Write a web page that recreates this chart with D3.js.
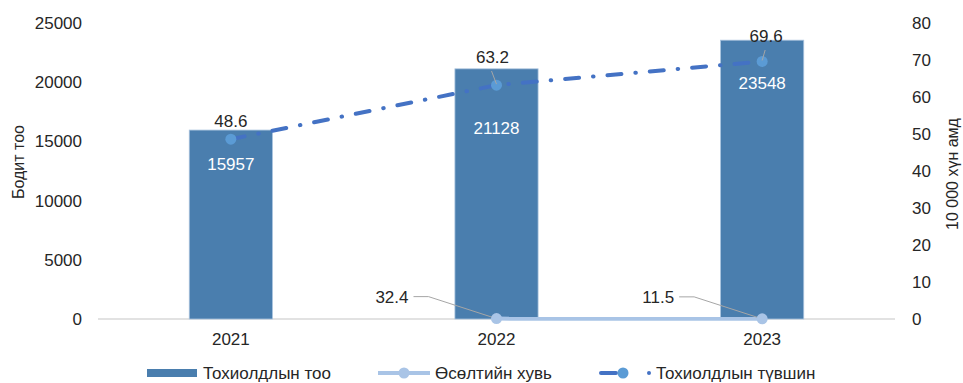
<!DOCTYPE html>
<html><head><meta charset="utf-8">
<script src="https://cdn.jsdelivr.net/npm/d3@7"></script>
<style>body{margin:0;background:#fff}svg{display:block;font-family:"Liberation Sans",Arial,sans-serif}</style>
</head><body><svg id="c" width="963" height="383"></svg>
<script>
const years = ["2021","2022","2023"];
const cases = [15957, 21128, 23548];
const growth = [null, 32.4, 11.5];
const rate = [48.6, 63.2, 69.6];
const leftTicks = [0,5000,10000,15000,20000,25000];
const rightTicks = [0,10,20,30,40,50,60,70,80];
const seriesNames = ["Тохиолдлын тоо","Өсөлтийн хувь","Тохиолдлын түвшин"];
const leftTitle = "Бодит тоо";
const rightTitle = "10 000 хүн амд";

const svg = d3.select("#c");
const L = 98, R = 895, T = 23, B = 319;
const x = d3.scaleBand().domain(years).range([L, R]);
const yL = d3.scaleLinear().domain([0,25000]).range([B, T]);
const yR = d3.scaleLinear().domain([0,80]).range([B, T]);
const barW = x.bandwidth()*0.313;
const cx = d => x(d) + x.bandwidth()/2;
const fs = 17;

svg.append("line").attr("x1",L).attr("x2",R).attr("y1",B).attr("y2",B).attr("stroke","#d9d9d9").attr("stroke-width",1.5);

const gL = svg.append("g").attr("transform",`translate(${L},0)`)
  .call(d3.axisLeft(yL).tickValues(leftTicks).tickSize(0).tickPadding(16).tickFormat(d3.format("d")));
gL.select(".domain").remove();
gL.selectAll("text").attr("font-size",fs).attr("fill","#262626").attr("font-family","Liberation Sans, Arial");

const gR = svg.append("g").attr("transform",`translate(${R},0)`)
  .call(d3.axisRight(yR).tickValues(rightTicks).tickSize(0).tickPadding(17));
gR.select(".domain").remove();
gR.selectAll("text").attr("font-size",fs).attr("fill","#262626").attr("font-family","Liberation Sans, Arial");

const gX = svg.append("g").attr("transform",`translate(0,${B})`)
  .call(d3.axisBottom(x).tickSize(0).tickPadding(14));
gX.select(".domain").remove();
gX.selectAll("text").attr("font-size",fs).attr("fill","#262626").attr("font-family","Liberation Sans, Arial");

svg.append("text").attr("transform",`translate(24,162) rotate(-90)`).attr("text-anchor","middle")
  .attr("font-size",16).attr("fill","#262626").text(leftTitle);
svg.append("text").attr("transform",`translate(958,174) rotate(-90)`).attr("text-anchor","middle")
  .attr("font-size",16).attr("fill","#262626").text(rightTitle);

svg.selectAll("rect.bar").data(years).join("rect").attr("class","bar")
  .attr("x",d=>cx(d)-barW/2).attr("width",barW)
  .attr("y",(d,i)=>yL(cases[i])).attr("height",(d,i)=>B-yL(cases[i]))
  .attr("fill","#4a7eae").attr("stroke","#a9c3de").attr("stroke-width",0.8);

const lineR = d3.line().x((d,i)=>cx(years[i])).y(d=>yR(d));
svg.append("path").datum(rate).attr("d",lineR).attr("fill","none")
  .attr("stroke","#4472c4").attr("stroke-width",4).attr("stroke-linecap","round")
  .attr("stroke-dasharray","14,14,0.5,14");

const gIdx = years.map((d,i)=>i).filter(i=>growth[i]!==null);
const lineG = d3.line().x(i=>cx(years[i])).y(i=>yL(growth[i]));
svg.append("path").datum(gIdx).attr("d",lineG).attr("fill","none")
  .attr("stroke","#a9c4e6").attr("stroke-width",4);

const gLabelDx = -88, gLabelDy = -22;
gIdx.forEach(i=>{
  const px = cx(years[i]), py = yL(growth[i]);
  svg.append("polyline").attr("points",`${px+gLabelDx+5},${py+gLabelDy} ${px+gLabelDx+20},${py+gLabelDy} ${px},${py}`)
    .attr("fill","none").attr("stroke","#a6a6a6").attr("stroke-width",1);
  svg.append("text").attr("x",px+gLabelDx).attr("y",py+gLabelDy+6).attr("text-anchor","end")
    .attr("font-size",fs).attr("fill","#262626").text(growth[i]);
});
svg.selectAll("circle.g").data(gIdx).join("circle").attr("class","g")
  .attr("cx",i=>cx(years[i])).attr("cy",i=>yL(growth[i])).attr("r",5.5).attr("fill","#a9c4e6");

svg.selectAll("circle.r").data(rate).join("circle").attr("class","r")
  .attr("cx",(d,i)=>cx(years[i])).attr("cy",d=>yR(d)).attr("r",5.5).attr("fill","#5b9bd5");

const rateLabelPos = [[0,121],[-4,57],[4,36]];
rate.forEach((v,i)=>{
  const px = cx(years[i]), py = yR(v);
  const lx = px + rateLabelPos[i][0], ly = rateLabelPos[i][1];
  if (i>0) svg.append("line").attr("x1",lx-1).attr("y1",ly+14).attr("x2",px).attr("y2",py-1)
    .attr("stroke","#a6a6a6").attr("stroke-width",1);
  svg.append("text").attr("x",lx).attr("y",ly).attr("text-anchor","middle").attr("dy","0.35em")
    .attr("font-size",fs).attr("fill","#262626").text(v);
});

const barLabelY = [164,128,83];
cases.forEach((v,i)=>{
  svg.append("text").attr("x",cx(years[i])).attr("y",barLabelY[i]).attr("dy","0.35em").attr("text-anchor","middle")
    .attr("font-size",fs).attr("fill","#ffffff").text(v);
});

const lg = svg.append("g");
const ly = 373;
lg.append("rect").attr("x",147).attr("y",ly-4).attr("width",50).attr("height",8).attr("fill","#4a7eae");
lg.append("text").attr("x",203).attr("y",ly).attr("dy","0.35em").attr("font-size",fs).attr("fill","#262626").text(seriesNames[0]);
lg.append("line").attr("x1",378).attr("x2",430).attr("y1",ly).attr("y2",ly).attr("stroke","#a9c4e6").attr("stroke-width",4);
lg.append("circle").attr("cx",404).attr("cy",ly).attr("r",5.5).attr("fill","#a9c4e6");
lg.append("text").attr("x",435).attr("y",ly).attr("dy","0.35em").attr("font-size",fs).attr("fill","#262626").text(seriesNames[1]);
lg.append("line").attr("x1",601).attr("x2",616).attr("y1",ly).attr("y2",ly).attr("stroke","#4472c4").attr("stroke-width",4).attr("stroke-linecap","round");
lg.append("circle").attr("cx",623).attr("cy",ly).attr("r",5.5).attr("fill","#5b9bd5");
lg.append("circle").attr("cx",649).attr("cy",ly).attr("r",2).attr("fill","#4472c4");
lg.append("text").attr("x",656).attr("y",ly).attr("dy","0.35em").attr("font-size",fs).attr("fill","#262626").text(seriesNames[2]);
</script></body></html>
